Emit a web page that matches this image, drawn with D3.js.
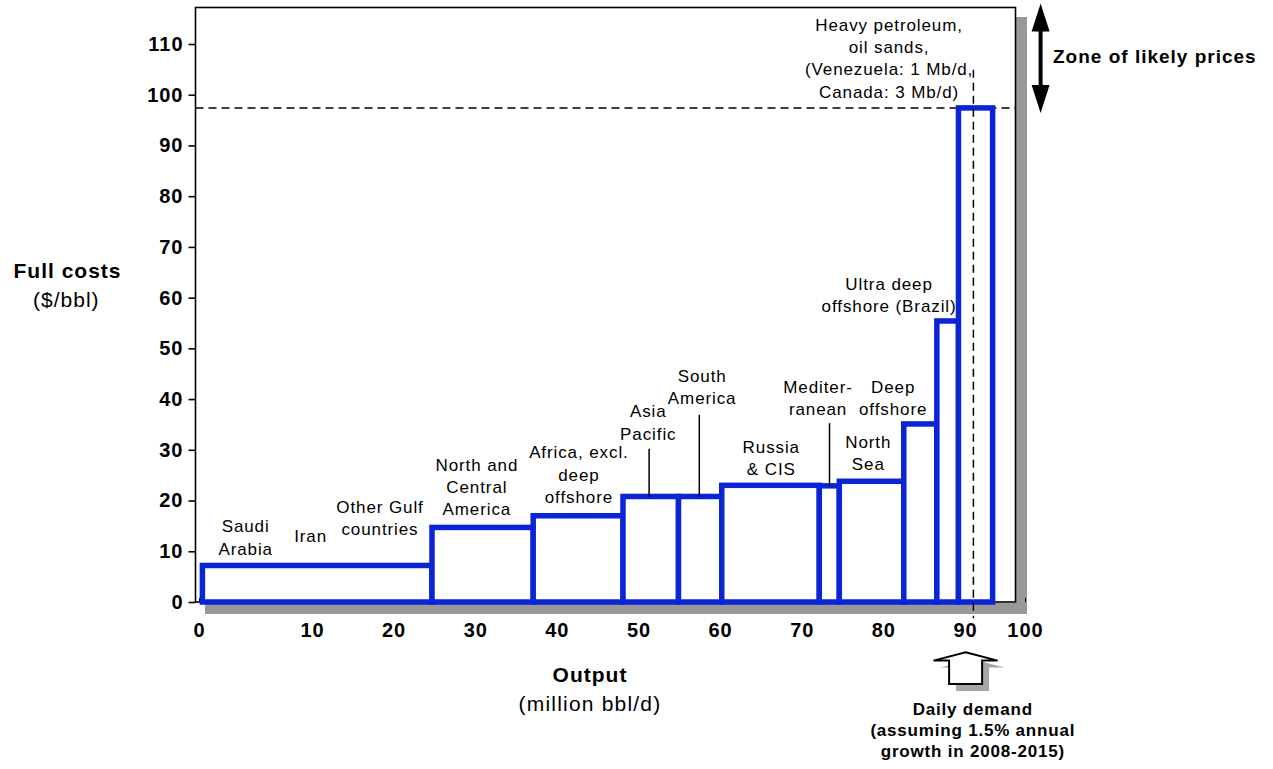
<!DOCTYPE html>
<html><head><meta charset="utf-8">
<script src="https://cdn.jsdelivr.net/npm/d3@7"></script>
<style>
body{margin:0;background:#fff}
svg text{font-family:"Liberation Sans",Arial,Helvetica,sans-serif;fill:#000}
</style>
</head><body>
<svg id="chart" width="1273" height="769"></svg>
<script>
// ---------------- DATA ----------------
const regions = ["Middle East (Saudi Arabia, Iran, Other Gulf)", "North and Central America",
  "Africa, excl. deep offshore", "Asia Pacific", "South America", "Russia & CIS",
  "Mediterranean", "North Sea", "Deep offshore", "Ultra deep offshore (Brazil)",
  "Heavy petroleum, oil sands"];
const outputStart = [0.3, 24.7, 37.1, 48.1, 54.9, 60.2, 72.15, 74.6, 82.5, 86.55, 89.2];
const outputEnd   = [24.7, 37.1, 48.1, 54.9, 60.2, 72.15, 74.6, 82.5, 86.55, 89.2, 94.6];
const fullCost    = [7.2, 14.7, 17.0, 20.8, 20.8, 23.0, 22.9, 23.8, 35.1, 55.4, 97.4];

const xTickValues = [0, 10, 20, 30, 40, 50, 60, 70, 80, 90, 100];
const yTickValues = [0, 10, 20, 30, 40, 50, 60, 70, 80, 90, 100, 110];

const zonePrice = 97.4;     // $/bbl, top of the curve
const dailyDemand = 91.4;   // million bbl/d

const labelTexts = [
  ["Saudi", "Arabia"], ["Iran"], ["Other Gulf", "countries"],
  ["North and", "Central", "America"], ["Africa, excl.", "deep", "offshore"],
  ["Asia", "Pacific"], ["South", "America"], ["Russia", "& CIS"],
  ["Mediter-", "ranean"], ["Deep", "offshore"], ["North", "Sea"],
  ["Ultra deep", "offshore (Brazil)"],
  ["Heavy petroleum,", "oil sands,", "(Venezuela: 1 Mb/d,", "Canada: 3 Mb/d)"]
];
// label anchors in data units (output, cost) of first baseline
const labelOutput = [4.13, 9.88, 18.33, 30.2, 42.7, 51.2, 57.8, 66.27, 72.0, 81.2, 78.15, 80.7, 80.7];
const labelCost   = [13.75, 11.9, 17.6, 25.9, 28.3, 36.4, 43.45, 29.45, 41.2, 41.2, 30.4, 61.5, 112.6];

// leader lines (output, from cost, to cost)
const leaderOutput = [51.3, 57.45, 73.4];
const leaderFrom   = [30.2, 36.9, 35.25];
const leaderTo     = [20.8, 20.8, 22.9];

// ---------------- LAYOUT ----------------
const svg = d3.select("#chart");
const x = d3.scaleLinear().domain([0, 10, 90, 100]).range([199, 312, 965, 1025]);
const y = d3.scaleLinear().domain([0, 110]).range([602, 44]);
const frame = {left: 195.5, top: 7.5, right: 1015.5, bottom: 602};
const blue = "#0a24d6";
const shadow = "#999999";

// shadows of plot frame
svg.append("rect").attr("x", frame.right).attr("y", 17).attr("width", 11.5).attr("height", 614 - 17).attr("fill", shadow);
svg.append("rect").attr("x", 205).attr("y", frame.bottom + 1).attr("width", frame.right + 11.5 - 205).attr("height", 11).attr("fill", shadow);
// frame
svg.append("rect").attr("x", frame.left).attr("y", frame.top)
  .attr("width", frame.right - frame.left).attr("height", frame.bottom - frame.top)
  .attr("fill", "#fff").attr("stroke", "#000").attr("stroke-width", 1.6);

// Y axis
const yAxis = svg.append("g").attr("transform", `translate(${frame.left},0)`)
  .call(d3.axisLeft(y).tickValues(yTickValues).tickSizeInner(7).tickSizeOuter(0).tickPadding(5));
yAxis.select(".domain").remove();
yAxis.selectAll("line").attr("stroke", "#000").attr("stroke-width", 1.6);
yAxis.selectAll("text").attr("font-size", 20).attr("font-weight", "bold")
  .attr("letter-spacing", 1).attr("fill", "#000").style("font-family", "Liberation Sans, Arial, sans-serif");

// X axis
const xAxis = svg.append("g").attr("transform", `translate(0,${frame.bottom})`)
  .call(d3.axisBottom(x).tickValues(xTickValues).tickSizeInner(-4).tickSizeOuter(0).tickPadding(21));
xAxis.select(".domain").remove();
xAxis.selectAll("line").attr("stroke", "#000").attr("stroke-width", 1);
xAxis.selectAll("text").attr("font-size", 20).attr("font-weight", "bold")
  .attr("letter-spacing", 1).attr("fill", "#000").style("font-family", "Liberation Sans, Arial, sans-serif");

// horizontal dashed price line (under bars)
svg.append("line").attr("x1", frame.left).attr("x2", frame.right)
  .attr("y1", y(zonePrice)).attr("y2", y(zonePrice))
  .attr("stroke", "#000").attr("stroke-width", 1.5).attr("stroke-dasharray", "8,5");

// bars
const bars = regions.map((r, i) => ({r, s: outputStart[i], e: outputEnd[i], c: fullCost[i]}));
svg.append("g").selectAll("rect").data(bars).join("rect")
  .attr("x", d => x(d.s)).attr("y", d => y(d.c))
  .attr("width", d => x(d.e) - x(d.s)).attr("height", d => y(0) - y(d.c))
  .attr("fill", "#fff").attr("stroke", blue).attr("stroke-width", 5.5);

// vertical dashed demand line
svg.append("line").attr("x1", x(dailyDemand)).attr("x2", x(dailyDemand))
  .attr("y1", y(104.9)).attr("y2", y(-3.2))
  .attr("stroke", "#000").attr("stroke-width", 1.5).attr("stroke-dasharray", "8,5");

// leader lines
leaderOutput.forEach((lx, i) => {
  svg.append("line").attr("x1", x(lx)).attr("x2", x(lx))
    .attr("y1", y(leaderFrom[i])).attr("y2", y(leaderTo[i]))
    .attr("stroke", "#000").attr("stroke-width", 1.5);
});

// region labels
labelTexts.forEach((lines, i) => {
  const t = svg.append("text").attr("text-anchor", "middle")
    .attr("font-size", 17).attr("letter-spacing", 0.9)
    .attr("x", x(labelOutput[i])).attr("y", y(labelCost[i]));
  lines.forEach((ln, j) => {
    t.append("tspan").attr("x", x(labelOutput[i])).attr("dy", j === 0 ? 0 : 22.3).text(ln);
  });
});

// Zone of likely prices double arrow
const ax = x(102.6), aTop = y(118), aBot = y(96.4);
svg.append("line").attr("x1", ax).attr("x2", ax).attr("y1", aTop + 20).attr("y2", aBot - 20)
  .attr("stroke", "#000").attr("stroke-width", 4);
svg.append("path").attr("d", `M${ax},${aTop} L${ax + 9},${aTop + 28} L${ax - 9},${aTop + 28} Z`).attr("fill", "#000");
svg.append("path").attr("d", `M${ax},${aBot} L${ax + 9},${aBot - 28} L${ax - 9},${aBot - 28} Z`).attr("fill", "#000");
svg.append("text").attr("x", x(104.67)).attr("y", y(106.3))
  .attr("font-size", 19).attr("font-weight", "bold").attr("letter-spacing", 1)
  .text("Zone of likely prices");

// Daily demand block arrow
const bx = x(90.1), by = y(-9.9);
const arrowPath = (dx, dy) => `M${bx + dx},${by + dy} L${bx + dx + 32},${by + dy + 8.4} L${bx + dx + 16.5},${by + dy + 8.4} L${bx + dx + 16.5},${by + dy + 31.7} L${bx + dx - 16.5},${by + dy + 31.7} L${bx + dx - 16.5},${by + dy + 8.4} L${bx + dx - 32},${by + dy + 8.4} Z`;
svg.append("path").attr("d", arrowPath(7, 7)).attr("fill", "#a6a6a6");
svg.append("path").attr("d", arrowPath(0, 0)).attr("fill", "#fff").attr("stroke", "#000").attr("stroke-width", 2).attr("stroke-linejoin", "miter");

const dd = svg.append("text").attr("text-anchor", "middle").attr("font-size", 17)
  .attr("font-weight", "bold").attr("letter-spacing", 0.8)
  .attr("x", x(91.3)).attr("y", y(-22.3));
["Daily demand", "(assuming 1.5% annual", "growth in 2008-2015)"].forEach((ln, j) => {
  dd.append("tspan").attr("x", x(91.3)).attr("dy", j === 0 ? 0 : 20.8).text(ln);
});

// axis titles
svg.append("text").attr("x", 67.5).attr("y", 277.7).attr("text-anchor", "middle")
  .attr("font-size", 21).attr("font-weight", "bold").attr("letter-spacing", 1).text("Full costs");
svg.append("text").attr("x", 66.3).attr("y", 306.7).attr("text-anchor", "middle")
  .attr("font-size", 21).attr("letter-spacing", 1).text("($/bbl)");
svg.append("text").attr("x", 590).attr("y", 682).attr("text-anchor", "middle")
  .attr("font-size", 21).attr("font-weight", "bold").attr("letter-spacing", 1).text("Output");
svg.append("text").attr("x", 590).attr("y", 711).attr("text-anchor", "middle")
  .attr("font-size", 21).attr("letter-spacing", 1.2).text("(million bbl/d)");
</script>
</body></html>
